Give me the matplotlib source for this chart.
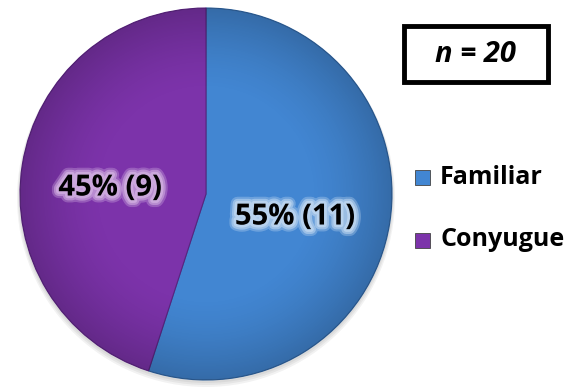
import numpy as np
import matplotlib.pyplot as plt
import matplotlib.patheffects as pe
from matplotlib.patches import Rectangle, Circle

# Datos del gráfico
categorias = ["Familiar", "Conyugue"]
valores = [11, 9]
colores = ["#4286d2", "#7c33aa"]
brillo = ["#bcd5ef", "#cfacdf"]
total = sum(valores)

plt.rcParams['font.family'] = ['Open Sans', 'DejaVu Sans']

fig = plt.figure(figsize=(5.84, 3.91), dpi=100)
ax = fig.add_axes([0, 0, 1, 1])

cx, cy, r = 206, 197, 186

# Sombra bajo la tarta
for i in range(3):
    ax.add_patch(Circle((cx, cy - 2 - i), r + 1 + i, facecolor='black', alpha=0.05, lw=0, zorder=0))

# Tarta (empieza arriba y gira en sentido horario)
cunas, _ = ax.pie(valores, colors=colores, startangle=90, counterclock=False,
                  center=(cx, cy), radius=r, frame=True,
                  wedgeprops=dict(edgecolor="#2d5f99", linewidth=0.8, zorder=1))
cunas[1].set_edgecolor("#5a2380")

# Degradado radial (borde más oscuro)
yy, xx = np.mgrid[-1:1:400j, -1:1:400j]
rr = np.sqrt(xx ** 2 + yy ** 2)
grad = np.zeros((400, 400, 4))
grad[..., 3] = np.clip((rr - 0.55) / 0.45, 0, 1) ** 1.5 * 0.2
im = ax.imshow(grad, extent=(cx - r, cx + r, cy - r, cy + r), zorder=2)
im.set_clip_path(Circle((cx, cy), r, transform=ax.transData))

ax.set_xlim(0, 584)
ax.set_ylim(0, 391)
ax.set_aspect('equal')
ax.axis('off')

# Etiquetas con halo suave
posiciones = [(295, 174), (110, 203)]
for v, (x, y), b in zip(valores, posiciones, brillo):
    halo = [pe.withStroke(linewidth=w, foreground=b, alpha=a) for w, a in [(10, 0.35), (7, 0.6), (4, 0.9)]]
    ax.text(x, y, f"{round(100 * v / total)}% ({v})", ha='center', va='center',
            fontsize=21, fontweight='bold', color='black', zorder=5, path_effects=halo)

# Leyenda
ley_y = [214, 151]
for c, col, y in zip(categorias, colores, ley_y):
    ax.add_patch(Rectangle((415, y - 7.5), 15, 15, facecolor=col, edgecolor="#444444", lw=0.6))
    ax.text(440, y, c, ha='left', va='center', fontsize=18, fontweight='bold')

# Caja n = 20
ax.add_patch(Rectangle((404, 309), 144, 56, facecolor='white', edgecolor='black', lw=3.5))
ax.text(475, 337, f"n = {total}", ha='center', va='center', fontsize=21,
        fontweight='bold', fontstyle='italic')

fig.savefig("out.png", dpi=100)
